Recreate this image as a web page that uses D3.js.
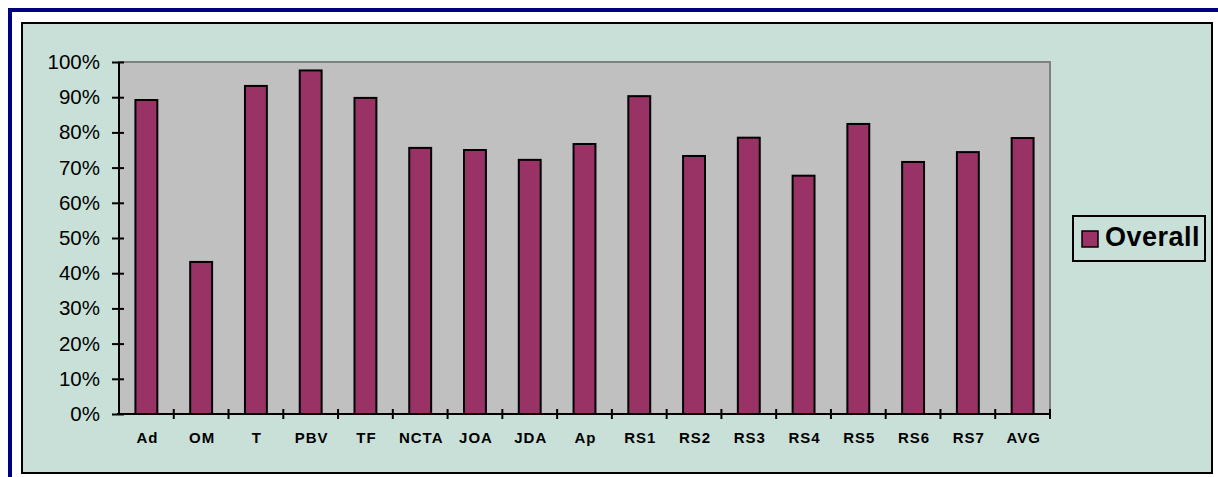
<!DOCTYPE html>
<html>
<head>
<meta charset="utf-8">
<script src="https://cdn.jsdelivr.net/npm/d3@7"></script>
<style>
  html, body { margin: 0; padding: 0; background: #ffffff; }
  svg { display: block; }
</style>
</head>
<body>
<svg id="chart" width="1218" height="477"></svg>
<script>
// Categories along the x axis
const categories = ["Ad", "OM", "T", "PBV", "TF", "NCTA", "JOA", "JDA", "Ap",
                    "RS1", "RS2", "RS3", "RS4", "RS5", "RS6", "RS7", "AVG"];
// Overall score per category (fraction of 1)
const overall = [0.892, 0.432, 0.932, 0.976, 0.898, 0.756, 0.750, 0.722, 0.767,
                 0.903, 0.733, 0.785, 0.677, 0.824, 0.716, 0.744, 0.784];
// Y axis tick values
const yTicks = [0, 0.1, 0.2, 0.3, 0.4, 0.5, 0.6, 0.7, 0.8, 0.9, 1.0];
const seriesName = "Overall";

const svg = d3.select("#chart");

// Outer navy frame (top and left edges show)
svg.append("rect").attr("x", 8).attr("y", 8).attr("width", 1210).attr("height", 4).attr("fill", "#000080");
svg.append("rect").attr("x", 8).attr("y", 8).attr("width", 4).attr("height", 469).attr("fill", "#000080");

// Chart area panel
svg.append("rect")
  .attr("x", 22).attr("y", 23).attr("width", 1190).attr("height", 450)
  .attr("fill", "#c8e0d8").attr("stroke", "#000").attr("stroke-width", 2);

// Plot area
const plot = { left: 119, right: 1050, top: 62, bottom: 414 };

const x = d3.scaleBand().domain(categories).range([plot.left, plot.right]).padding(0);
const y = d3.scaleLinear().domain([0, 1]).range([plot.bottom, plot.top]);

svg.append("rect")
  .attr("x", plot.left).attr("y", plot.top)
  .attr("width", plot.right - plot.left).attr("height", plot.bottom - plot.top)
  .attr("fill", "#c0c0c0").attr("stroke", "#808080").attr("stroke-width", 2);

// Bars: width is step / 2.5, centred in each band
const bw = x.bandwidth() / 2.5;
svg.append("g").selectAll("rect")
  .data(overall)
  .join("rect")
  .attr("x", (d, i) => x(categories[i]) + (x.bandwidth() - bw) / 2)
  .attr("y", d => y(d))
  .attr("width", bw)
  .attr("height", d => y(0) - y(d))
  .attr("fill", "#993366")
  .attr("stroke", "#000")
  .attr("stroke-width", 2);

// Y axis with crossing tick marks
const yAxis = svg.append("g")
  .attr("transform", `translate(${plot.left},0)`)
  .call(d3.axisLeft(y).tickValues(yTicks).tickFormat(d3.format(".0%")).tickSize(7).tickPadding(12));
yAxis.select(".domain").attr("stroke", "#000").attr("stroke-width", 2).attr("d", `M0,${plot.top}V${plot.bottom}`);
yAxis.selectAll(".tick line").attr("x1", 5).attr("stroke", "#000").attr("stroke-width", 2);
yAxis.selectAll(".tick text")
  .attr("font-family", "'Liberation Sans', Arial, sans-serif")
  .attr("font-size", "20.5px")
  .attr("fill", "#000");

// X axis line and boundary ticks
const xg = svg.append("g");
xg.append("line")
  .attr("x1", plot.left - 2).attr("x2", plot.right + 1)
  .attr("y1", plot.bottom).attr("y2", plot.bottom)
  .attr("stroke", "#000").attr("stroke-width", 2);
const boundaries = categories.map(c => x(c)).slice(1).concat([plot.right]);
xg.selectAll("line.tick")
  .data(boundaries)
  .join("line")
  .attr("class", "tick")
  .attr("x1", d => d).attr("x2", d => d)
  .attr("y1", plot.bottom - 5).attr("y2", plot.bottom + 5)
  .attr("stroke", "#000").attr("stroke-width", 2);
xg.selectAll("text")
  .data(categories)
  .join("text")
  .attr("x", d => x(d) + x.bandwidth() / 2 + 1)
  .attr("y", 443)
  .attr("text-anchor", "middle")
  .attr("font-family", "'Liberation Sans', Arial, sans-serif")
  .attr("font-weight", "bold")
  .attr("font-size", "15px")
  .attr("letter-spacing", "1px")
  .attr("fill", "#000")
  .text(d => d);

// Legend
const lg = svg.append("g");
lg.append("rect")
  .attr("x", 1073).attr("y", 216).attr("width", 132).attr("height", 45)
  .attr("fill", "#c8e0d8").attr("stroke", "#000").attr("stroke-width", 2);
lg.append("rect")
  .attr("x", 1082).attr("y", 231).attr("width", 16).attr("height", 16)
  .attr("fill", "#993366").attr("stroke", "#000").attr("stroke-width", 1.5);
lg.append("text")
  .attr("x", 1105).attr("y", 246)
  .attr("font-family", "'Liberation Sans', Arial, sans-serif")
  .attr("font-weight", "bold")
  .attr("font-size", "27px")
  .attr("letter-spacing", "0.5px")
  .attr("fill", "#000")
  .text(seriesName);
</script>
</body>
</html>
